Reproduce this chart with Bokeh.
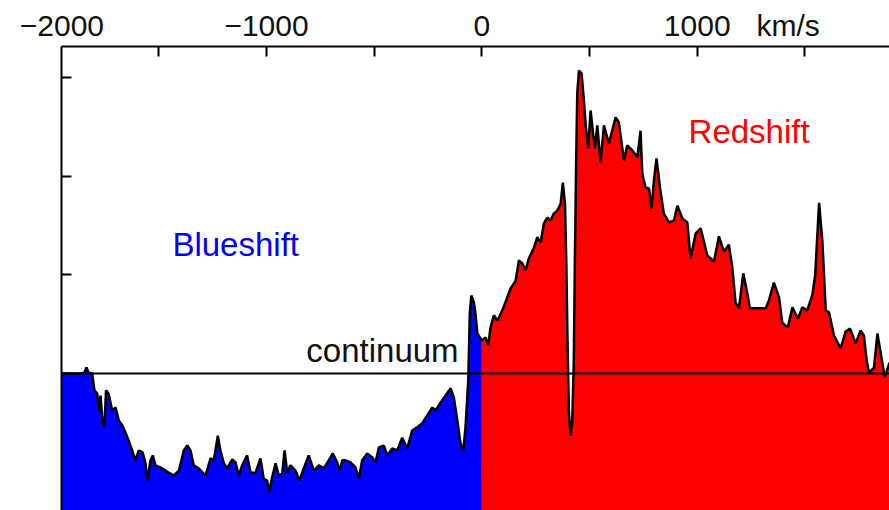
from bokeh.plotting import figure
from bokeh.models import FixedTicker, Label, Range1d, Span, LinearAxis
from bokeh.embed import file_html
from bokeh.resources import INLINE

# Line-of-sight velocity (km/s) and normalised flux (continuum = 1)
velocity = [
    -1952, -1864, -1845, -1836, -1827, -1810, -1799, -1786, -1779, -1771,
    -1763, -1753, -1745, -1733, -1717, -1701, -1686, -1670, -1655, -1640,
    -1624, -1609, -1593, -1575, -1562, -1554, -1539, -1528, -1516, -1485,
    -1454, -1431, -1407, -1384, -1368, -1353, -1338, -1315, -1283, -1260,
    -1245, -1226, -1214, -1198, -1183, -1159, -1144, -1129, -1113, -1090,
    -1074, -1051, -1028, -1013, -997, -989, -974, -958, -943, -927,
    -916, -904, -889, -865, -847, -827, -804, -780, -757, -734,
    -711, -692, -672, -661, -648, -633, -610, -587, -571, -556,
    -532, -509, -494, -478, -455, -439, -416, -393, -370, -347,
    -323, -300, -277, -254, -230, -215, -192, -169, -145, -130,
    -114, -99, -86, -76, -63, -56, -49, -37, -29, -21,
    -6, 0,
    17, 30, 40, 56, 72, 95, 118, 133, 157, 172,
    188, 203, 218, 242, 257, 273, 288, 304, 319, 334,
    350, 366, 376, 386, 392, 398, 404, 412, 420, 427,
    432, 438, 443, 451, 463, 474, 482, 494, 505, 516,
    525, 536, 551, 567, 590, 621, 636, 660, 675, 699,
    722, 737, 745, 760, 776, 788, 799, 811, 827, 845,
    869, 892, 908, 931, 954, 969, 993, 1016, 1047, 1078,
    1101, 1124, 1147, 1163, 1178, 1194, 1214, 1230, 1245, 1318,
    1333, 1356, 1380, 1395, 1421, 1442, 1468, 1488, 1511, 1535,
    1548, 1566, 1581, 1597, 1612, 1635, 1666, 1689, 1710, 1736,
    1759, 1774, 1787, 1798, 1821, 1837, 1854, 1871, 1893,
]
flux = [
    1.000, 1.000, 1.002, 1.012, 1.002, 1.000, 0.966, 0.959, 0.925, 0.955,
    0.911, 0.891, 0.966, 0.959, 0.925, 0.931, 0.905, 0.895, 0.880, 0.864,
    0.844, 0.824, 0.844, 0.840, 0.818, 0.783, 0.824, 0.834, 0.814, 0.808,
    0.799, 0.793, 0.803, 0.844, 0.854, 0.844, 0.814, 0.808, 0.793, 0.828,
    0.824, 0.874, 0.844, 0.818, 0.808, 0.826, 0.820, 0.793, 0.814, 0.834,
    0.799, 0.799, 0.828, 0.787, 0.783, 0.759, 0.789, 0.818, 0.793, 0.797,
    0.844, 0.799, 0.814, 0.803, 0.783, 0.808, 0.834, 0.803, 0.814, 0.808,
    0.824, 0.838, 0.820, 0.803, 0.824, 0.824, 0.820, 0.810, 0.787, 0.824,
    0.838, 0.830, 0.820, 0.850, 0.854, 0.834, 0.848, 0.844, 0.870, 0.848,
    0.885, 0.891, 0.899, 0.915, 0.931, 0.925, 0.941, 0.955, 0.970, 0.951,
    0.905, 0.858, 0.844, 0.891, 0.986, 1.122, 1.158, 1.144, 1.118, 1.081,
    1.071, 1.067,
    1.073, 1.057, 1.093, 1.118, 1.107, 1.128, 1.154, 1.172, 1.188, 1.229,
    1.223, 1.209, 1.233, 1.255, 1.276, 1.265, 1.304, 1.316, 1.310, 1.324,
    1.330, 1.344, 1.387, 1.344, 1.229, 1.061, 0.925, 0.874, 0.905, 1.026,
    1.229, 1.432, 1.567, 1.614, 1.608, 1.553, 1.503, 1.456, 1.533, 1.488,
    1.456, 1.503, 1.428, 1.503, 1.466, 1.519, 1.509, 1.432, 1.462, 1.452,
    1.438, 1.492, 1.405, 1.377, 1.375, 1.334, 1.391, 1.436, 1.377, 1.324,
    1.306, 1.310, 1.340, 1.314, 1.306, 1.233, 1.284, 1.294, 1.239, 1.227,
    1.278, 1.247, 1.261, 1.215, 1.144, 1.132, 1.203, 1.168, 1.132, 1.132,
    1.148, 1.184, 1.154, 1.103, 1.093, 1.134, 1.111, 1.134, 1.128, 1.160,
    1.199, 1.346, 1.270, 1.128, 1.124, 1.077, 1.051, 1.085, 1.091, 1.061,
    1.087, 1.077, 1.026, 1.002, 1.012, 1.081, 1.036, 0.992, 1.022,
]

x_tick_values = [-1500, -1000, -500, 0, 500, 1000, 1500]
x_label_values = [-1950, -1000, 0, 1000, 1422]
x_label_texts = ["\u22122000", "\u22121000", "0", "1000", "km/s"]
y_tick_values = [1.0, 1.2, 1.4, 1.6]
continuum_level = 1.0

blue_v = [v for v in velocity if v <= 0]
blue_f = [f for v, f in zip(velocity, flux) if v <= 0]
red_v = [v for v in velocity if v >= 0]
red_f = [f for v, f in zip(velocity, flux) if v >= 0]

FONT = "Liberation Sans"

p = figure(width=889, height=510,
           x_range=Range1d(-1952, 1893), y_range=Range1d(0.7224, 1.6626),
           x_axis_location="above", output_backend="svg", toolbar_location=None,
           min_border_left=61, min_border_top=46, min_border_right=0, min_border_bottom=0)
p.grid.visible = False
p.outline_line_color = None
p.background_fill_color = "white"
p.border_fill_color = "white"

p.varea(x=blue_v, y1=0.0, y2=blue_f, fill_color="#0000ff")
p.varea(x=red_v, y1=0.0, y2=red_f, fill_color="#ff0000")
p.line(velocity, flux, line_color="black", line_width=2.5)
p.add_layout(Span(location=continuum_level, dimension="width", line_color="black", line_width=2))

# axis carrying the line and the tick marks
xa = p.xaxis[0]
xa.ticker = FixedTicker(ticks=x_tick_values)
xa.major_label_overrides = {v: "" for v in x_tick_values}
xa.major_label_text_font_size = "0px"
xa.major_label_standoff = 0
xa.major_tick_in = 10
xa.major_tick_out = 0
xa.minor_tick_line_color = None
xa.axis_line_width = 2
xa.major_tick_line_width = 2

# axis carrying only the texts above the frame
xl = LinearAxis(ticker=FixedTicker(ticks=x_label_values),
                major_label_overrides={v: t for v, t in zip(x_label_values, x_label_texts)},
                axis_line_color=None, major_tick_line_color=None, minor_tick_line_color=None,
                major_tick_in=0, major_tick_out=0,
                major_label_text_font=FONT, major_label_text_font_size="30px",
                major_label_text_color="#111111", major_label_standoff=5)
p.add_layout(xl, "above")

ya = p.yaxis[0]
ya.ticker = FixedTicker(ticks=y_tick_values)
ya.major_label_overrides = {v: "" for v in y_tick_values}
ya.major_label_text_font_size = "0px"
ya.major_tick_in = 10
ya.major_tick_out = 0
ya.minor_tick_line_color = None
ya.axis_line_width = 2
ya.major_tick_line_width = 2

def add_text(x, y, text, size, color="#111111", align="left"):
    p.add_layout(Label(x=x, y=y, text=text, text_font=FONT, text_font_size=size,
                       text_color=color, text_align=align, text_baseline="alphabetic"))

add_text(-108, 1.046, "continuum", "33px", align="right")
add_text(-1437, 1.261, "Blueshift", "33px", color="#0000ff")
add_text(960, 1.490, "Redshift", "33px", color="#ff0000")

open("out.html", "w").write(file_html(p, INLINE))
